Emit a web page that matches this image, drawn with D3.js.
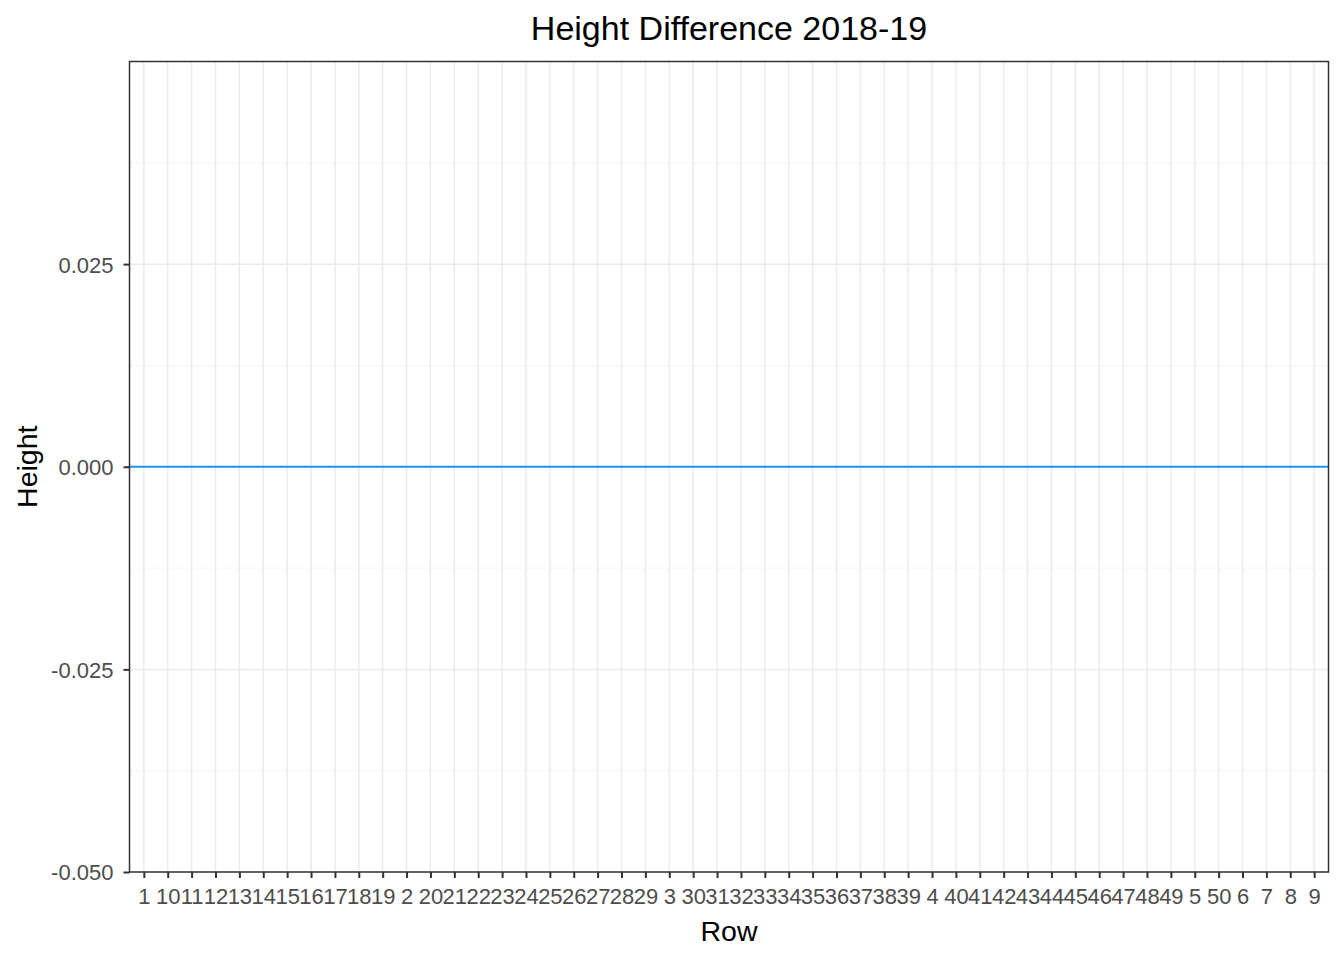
<!DOCTYPE html>
<html lang="en">
<head>
  <meta charset="utf-8">
  <title>Height Difference 2018-19</title>
  <script src="https://d3js.org/d3.v7.min.js"></script>
  <style>
    body { margin: 0; background: #fff; }
    text { font-family: "Liberation Sans", Arial, sans-serif; }
  </style>
</head>
<body>
<script>
// rows, sorted as text the way the x axis shows them
var rows = ["1","10","11","12","13","14","15","16","17","18","19",
            "2","20","21","22","23","24","25","26","27","28","29",
            "3","30","31","32","33","34","35","36","37","38","39",
            "4","40","41","42","43","44","45","46","47","48","49",
            "5","50","6","7","8","9"];
var yTicks = [-0.05, -0.025, 0, 0.025];
var yMinor = [-0.0375, -0.0125, 0.0125, 0.0375];
var yLimits = [-0.05, 0.05];
var refLine = [0];

var w = 1344, h = 960;
var m = {top: 61.5, right: 15.5, bottom: 88, left: 129.5};

var svg = d3.select("body").append("svg")
  .attr("width", w)
  .attr("height", h);

var x = d3.scalePoint()
  .domain(rows)
  .range([m.left, w - m.right])
  .padding(0.6);

var y = d3.scaleLinear()
  .domain(yLimits)
  .range([h - m.bottom, m.top]);

var grid = svg.append("g");

// minor grid
grid.selectAll("line.minor")
  .data(yMinor)
  .enter().append("line")
  .attr("x1", m.left).attr("x2", w - m.right)
  .attr("y1", d => y(d)).attr("y2", d => y(d))
  .attr("stroke", "#f2f2f2")
  .attr("stroke-width", 0.8);

// major grid
grid.selectAll("line.majory")
  .data(yTicks)
  .enter().append("line")
  .attr("x1", m.left).attr("x2", w - m.right)
  .attr("y1", d => y(d)).attr("y2", d => y(d))
  .attr("stroke", "#ebebeb")
  .attr("stroke-width", 1.5);

grid.selectAll("line.majorx")
  .data(rows)
  .enter().append("line")
  .attr("x1", d => x(d)).attr("x2", d => x(d))
  .attr("y1", m.top).attr("y2", h - m.bottom)
  .attr("stroke", "#ebebeb")
  .attr("stroke-width", 1.5);

// the zero line
svg.selectAll("line.ref")
  .data(refLine)
  .enter().append("line")
  .attr("x1", m.left).attr("x2", w - m.right)
  .attr("y1", d => y(d)).attr("y2", d => y(d))
  .attr("stroke", "#1e90ff")
  .attr("stroke-width", 2);

// axes
var fmt = d3.format(".3f");
var xAxis = svg.append("g")
  .attr("transform", "translate(0," + (h - m.bottom) + ")")
  .call(d3.axisBottom(x).tickSize(6).tickPadding(4));

var yAxis = svg.append("g")
  .attr("transform", "translate(" + m.left + ",0)")
  .call(d3.axisLeft(y).tickValues(yTicks)
    .tickFormat(d => fmt(d).replace("\u2212", "-"))
    .tickSize(6).tickPadding(10));

[xAxis, yAxis].forEach(function (a) {
  a.select(".domain").remove();
  a.selectAll(".tick line").attr("stroke", "#333333").attr("stroke-width", 2);
  a.selectAll(".tick text")
    .attr("fill", "#4d4d4d")
    .style("font-size", "22px")
    .style("font-family", "'Liberation Sans', Arial, sans-serif");
});
yAxis.selectAll(".tick text").attr("dy", "0.36em");
xAxis.selectAll(".tick text").attr("y", 16).attr("dy", "0.71em");

// panel border
svg.append("rect")
  .attr("x", m.left).attr("y", m.top)
  .attr("width", w - m.right - m.left)
  .attr("height", h - m.bottom - m.top)
  .attr("fill", "none")
  .attr("stroke", "#333333")
  .attr("stroke-width", 1.5);

// titles
var cx = (m.left + w - m.right) / 2;
svg.append("text")
  .attr("x", cx).attr("y", 40)
  .attr("text-anchor", "middle")
  .style("font-size", "34px")
  .text("Height Difference 2018-19");

svg.append("text")
  .attr("x", cx).attr("y", 941)
  .attr("text-anchor", "middle")
  .style("font-size", "28.5px")
  .text("Row");

svg.append("text")
  .attr("transform", "translate(37," + y(0) + ") rotate(-90)")
  .attr("text-anchor", "middle")
  .style("font-size", "28.5px")
  .text("Height");
</script>
</body>
</html>
